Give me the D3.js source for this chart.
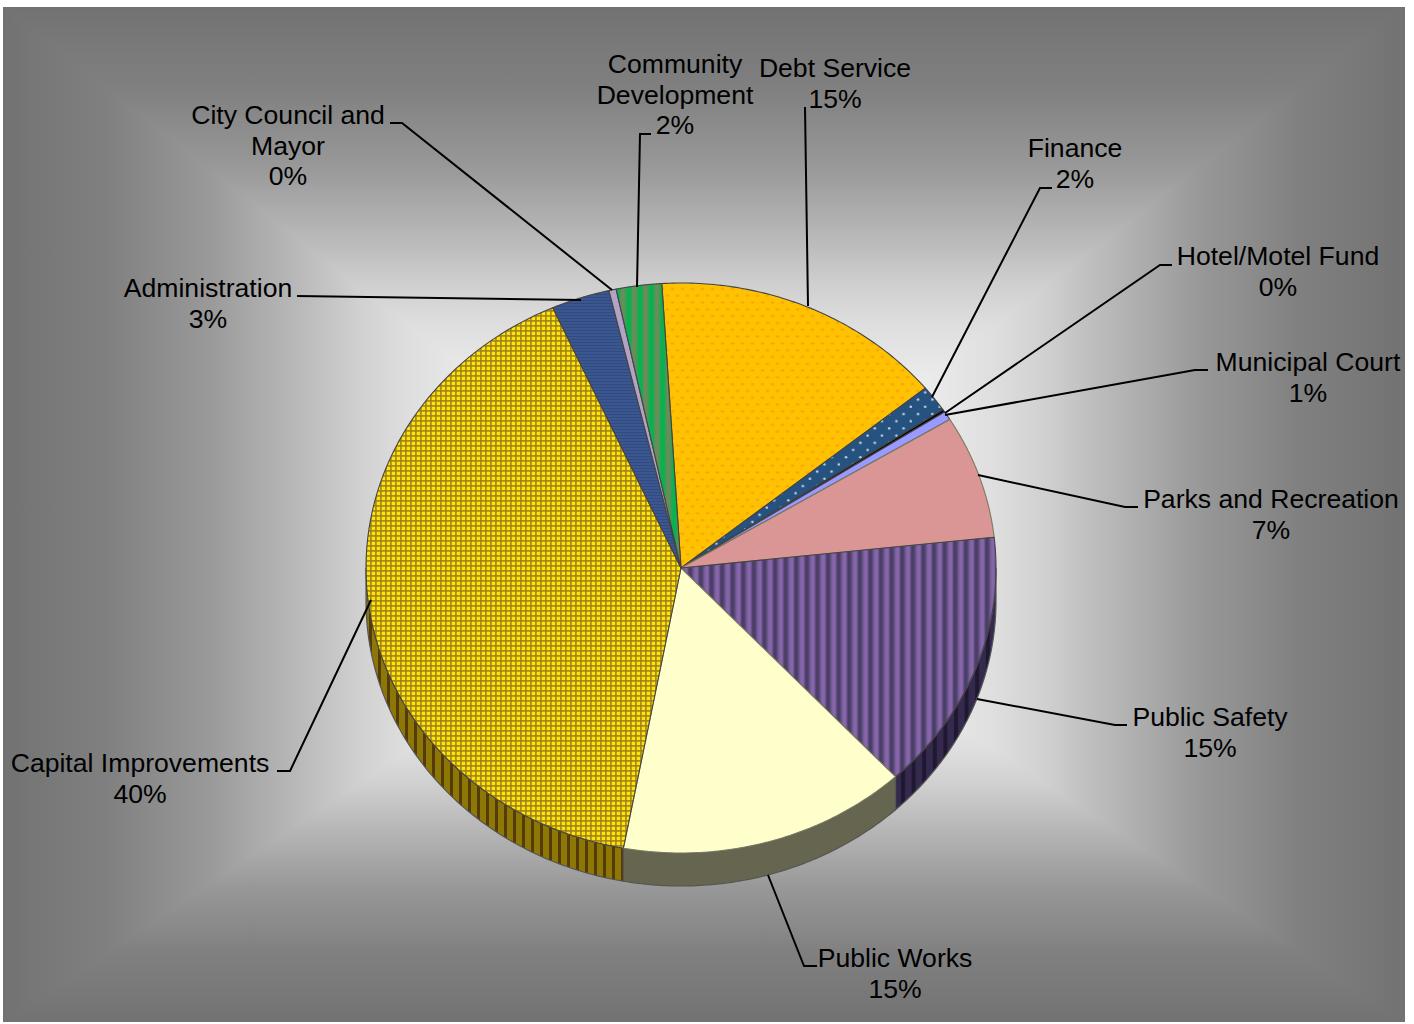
<!DOCTYPE html>
<html>
<head>
<meta charset="utf-8">
<script src="https://cdn.jsdelivr.net/npm/d3@7/dist/d3.min.js"></script>
<style>
html, body { margin: 0; padding: 0; background: #fff; }
svg { display: block; }
text { font-family: "Liberation Sans", Arial, sans-serif; font-size: 26.6px; fill: #000; text-anchor: middle; }
</style>
</head>
<body>
<svg id="chart" width="1414" height="1024"></svg>
<script>
// Budget shares, clockwise from the top of the pie
const departments = ["Debt Service", "Finance", "Hotel/Motel Fund", "Municipal Court", "Parks and Recreation",
  "Public Safety", "Public Works", "Capital Improvements", "Administration", "City Council and Mayor", "Community Development"];
const shares = [15.1, 1.5, 0.15, 0.5, 7.0, 14.8, 14.85, 40.4, 3.0, 0.37, 2.33];

// Wrapped label lines (name only; the percentage is appended from the share)
const labelLines = [["Debt Service"], ["Finance"], ["Hotel/Motel Fund"], ["Municipal Court"], ["Parks and Recreation"],
  ["Public Safety"], ["Public Works"], ["Capital Improvements"], ["Administration"], ["City Council and", "Mayor"], ["Community", "Development"]];

// Label centre and first baseline, in page pixels
const labelX = [835, 1075, 1278, 1308, 1271, 1210, 895, 140, 208, 288, 675];
const labelY = [77, 157, 265, 371, 508, 726, 967, 772, 297, 124, 73];

// Leader polylines run from the label to the rim of the pie
const leaders = [
  [[805, 107], [808, 306]],
  [[1052, 188], [1040, 188], [932, 397]],
  [[1172, 265], [1160, 265], [945, 413]],
  [[1208, 370], [1195, 370], [945, 415]],
  [[1138, 507], [1125, 507], [978, 475]],
  [[1127, 725], [1115, 725], [977, 699]],
  [[817, 966], [804, 966], [768, 875]],
  [[277, 771], [290, 771], [371, 600]],
  [[297, 296], [581, 300]],
  [[390, 123], [402, 123], [612, 290]],
  [[651, 134], [640, 134], [637, 287]]
];

const frame = { x0: 3, y0: 7, x1: 1405, y1: 1022 };
const pieGeom = { cx: 681, cy: 568, rx: 315, ry: 285, depth: 33, start: -3.5 * Math.PI / 180 };

const svg = d3.select("#chart");
const defs = svg.append("defs");

// Rectangular burst behind the chart, built from four gradient triangles
const mid = { x: 700, y: 555 };
const burstStops = [[0, "#ffffff"], [0.3, "#eeeeee"], [0.42, "#dedede"], [0.49, "#d0d0d0"], [0.565, "#bcbcbc"],
  [0.634, "#ababab"], [0.71, "#989898"], [0.776, "#8d8d8d"], [0.85, "#808080"], [0.92, "#7a7a7a"], [1, "#727272"]];
const corners = [[frame.x0, frame.y0], [frame.x1, frame.y0], [frame.x1, frame.y1], [frame.x0, frame.y1]];
const edgeEnds = [[mid.x, frame.y0], [frame.x1, mid.y], [mid.x, frame.y1], [frame.x0, mid.y]];
const burstClip = defs.append("clipPath").attr("id", "frameClip");
burstClip.append("rect").attr("x", frame.x0).attr("y", frame.y0)
  .attr("width", frame.x1 - frame.x0).attr("height", frame.y1 - frame.y0);
const burstG = svg.append("g").attr("clip-path", "url(#frameClip)");
corners.forEach((c, i) => {
  const g = defs.append("linearGradient").attr("id", "burst" + i).attr("gradientUnits", "userSpaceOnUse")
    .attr("x1", mid.x).attr("y1", mid.y).attr("x2", edgeEnds[i][0]).attr("y2", edgeEnds[i][1]);
  burstStops.forEach(s => g.append("stop").attr("offset", s[0]).attr("stop-color", s[1]));
  const d = corners[(i + 1) % 4];
  burstG.append("polygon")
    .attr("points", [c, d, [mid.x, mid.y]].map(p => p.join(",")).join(" "))
    .attr("fill", `url(#burst${i})`)
    .attr("stroke", `url(#burst${i})`).attr("stroke-width", 1.6);
});

// Fill patterns
function pattern(id, w, h, base, draw) {
  const p = defs.append("pattern").attr("id", id).attr("patternUnits", "userSpaceOnUse").attr("width", w).attr("height", h);
  p.append("rect").attr("width", w).attr("height", h).attr("fill", base);
  draw(p);
}
// Soft vertical stripe: a horizontal gradient from the dark rib to the light band and back
function ribGradient(id, dark, light) {
  const g = defs.append("linearGradient").attr("id", id);
  [[0, dark], [0.2, dark], [0.55, light], [0.8, light], [1, dark]].forEach(s =>
    g.append("stop").attr("offset", s[0]).attr("stop-color", s[1]));
}
const bar = (p, x, y, w, h, c, o = 1) => p.append("rect").attr("x", x).attr("y", y).attr("width", w).attr("height", h).attr("fill", c).attr("opacity", o);
const dot = (p, x, y, rx, ry, c) => p.append("ellipse").attr("cx", x).attr("cy", y).attr("rx", rx).attr("ry", ry).attr("fill", c);

ribGradient("ribSafety", "#4a3d66", "#8566a9");
ribGradient("ribCommunity", "#6f8a5a", "#08b24e");

pattern("pDebt", 10, 13.6, "#ffc200", p => { dot(p, 2.5, 3.4, 2.0, 1.1, "#fba40c"); dot(p, 7.5, 10.2, 2.0, 1.1, "#fba40c"); });
pattern("pFinance", 14.4, 14.4, "#25527f", p => { dot(p, 3.6, 3.6, 1.3, 1.3, "#c5d3e2"); dot(p, 10.8, 10.8, 1.3, 1.3, "#c5d3e2"); });
pattern("pSafety", 10.6, 10, "#8264a6", p => { bar(p, 0, 0, 10.6, 10, "url(#ribSafety)"); });
pattern("pSafetySide", 10.6, 10, "#352a4d", p => { bar(p, 0, 0, 4, 10, "#1e1830"); });
pattern("pCapital", 5, 5, "#ffe408", p => { bar(p, 0, 0, 1.8, 5, "#9c7f1c", 0.85); bar(p, 0, 0, 5, 1.8, "#9c7f1c", 0.85); });
pattern("pCapitalSide", 9, 10, "#8d7806", p => { bar(p, 0, 0, 3, 10, "#553a0a"); });
pattern("pAdmin", 3, 3, "#3b5791", p => { bar(p, 0, 0, 3, 1, "#334a7c"); });
pattern("pCommunity", 11.3, 10, "#0cb04e", p => { bar(p, 0, 0, 11.3, 10, "url(#ribCommunity)"); });

const tops = ["url(#pDebt)", "url(#pFinance)", "#000000", "#9999ff", "#d99694", "url(#pSafety)", "#ffffcc",
  "url(#pCapital)", "url(#pAdmin)", "#b2a2c7", "url(#pCommunity)"];
const sides = ["#7f6000", "#12293f", "#000000", "#4c4c80", "#6d4b4a", "url(#pSafetySide)", "#666650",
  "url(#pCapitalSide)", "#1d2b48", "#595163", "#065828"];

const arcs = d3.pie().sort(null).value(d => d)
  .startAngle(pieGeom.start).endAngle(pieGeom.start + 2 * Math.PI)(shares);

// Point on the top ellipse for a clockwise angle measured from twelve o'clock
const rim = a => [pieGeom.cx + pieGeom.rx * Math.sin(a), pieGeom.cy - pieGeom.ry * Math.cos(a)];
const rimArc = (a0, a1) => d3.range(0, 81).map(i => rim(a0 + (a1 - a0) * i / 80));
const line = d3.line();

// Side wall: only the part of each slice facing the viewer, between 90 and 270 degrees
const wallG = svg.append("g");
arcs.forEach((d, i) => {
  const a0 = Math.max(d.startAngle, Math.PI / 2), a1 = Math.min(d.endAngle, 3 * Math.PI / 2);
  if (a1 <= a0) return;
  const upper = rimArc(a0, a1);
  const lower = upper.map(p => [p[0], p[1] + pieGeom.depth]).reverse();
  wallG.append("path").attr("d", line(upper.concat(lower)) + "Z")
    .attr("fill", sides[i]).attr("stroke", "#555").attr("stroke-width", 1.2);
});

// Top face
const topG = svg.append("g");
arcs.forEach((d, i) => {
  const pts = [[pieGeom.cx, pieGeom.cy]].concat(rimArc(d.startAngle, d.endAngle));
  topG.append("path").attr("d", line(pts) + "Z")
    .attr("fill", tops[i])
    .attr("stroke", i === 6 || i === 4 ? "#7a7a60" : "#444")
    .attr("stroke-width", 1.1).attr("stroke-linejoin", "round");
});

// Leader lines
svg.append("g").selectAll("path").data(leaders).join("path")
  .attr("d", d => line(d)).attr("fill", "none").attr("stroke", "#000").attr("stroke-width", 2);

// Labels: name lines followed by the rounded percentage
const labelG = svg.append("g");
departments.forEach((name, i) => {
  const t = labelG.append("text").attr("aria-label", name);
  labelLines[i].concat([d3.format(".0f")(shares[i]) + "%"]).forEach((s, k) => {
    t.append("tspan").attr("x", labelX[i]).attr("y", labelY[i] + k * 30.7).text(s);
  });
});
</script>
</body>
</html>
